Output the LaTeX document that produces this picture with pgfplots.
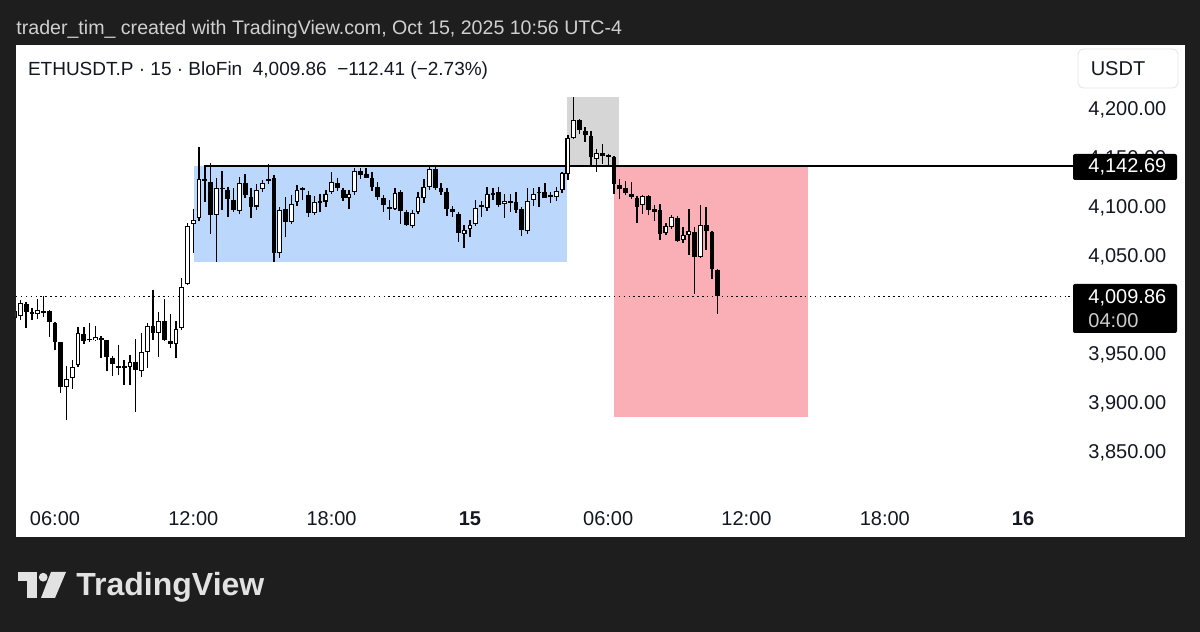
\documentclass[border=0pt]{standalone}
\usepackage{fontspec}
\setmainfont{Liberation Sans}
\usepackage{pgfplots}
\pgfplotsset{compat=1.18}
\usepackage{pgfplotstable}

\definecolor{bgdark}{RGB}{30,30,30}
\definecolor{hdrgray}{RGB}{208,208,208}
\definecolor{tvblack}{RGB}{19,23,34}
\definecolor{boxblue}{RGB}{187,215,251}
\definecolor{boxgray}{RGB}{214,214,214}
\definecolor{boxred}{RGB}{249,175,181}
\definecolor{logogray}{RGB}{226,226,226}

% 15 min candles, t = hours from Oct 14 00:00
\pgfplotstableread{
t o h l c
4.25 3988.0 3998.0 3984.0 3995.0
4.5 3989.8 4006.1 3985.7 4002.7
4.75 4002.0 4003.7 3977.2 3994.2
5.0 3993.5 3997.6 3985.7 3993.0
5.25 3991.8 4006.8 3986.4 3995.6
5.5 3994.0 4010.5 3989.1 3994.5
5.75 3995.3 3995.9 3968.7 3984.0
6.0 3983.0 3984.0 3955.1 3963.6
6.25 3962.9 3963.6 3910.9 3917.7
6.5 3917.0 3938.8 3883.7 3925.2
6.75 3926.2 3944.9 3915.0 3938.1
7.0 3939.8 3978.9 3938.1 3972.1
7.25 3971.1 3978.9 3961.2 3964.3
7.5 3965.8 3982.3 3963.3 3966.2
7.75 3965.3 3979.6 3963.9 3968.0
8.0 3966.5 3969.4 3946.6 3966.2
8.25 3965.3 3965.6 3934.0 3947.6
8.5 3946.6 3949.0 3928.6 3940.5
8.75 3938.3 3960.2 3929.6 3938.0
9.0 3938.0 3944.9 3919.4 3938.3
9.25 3938.1 3950.0 3919.4 3942.9
9.5 3943.2 3966.0 3892.2 3934.7
9.75 3933.7 3972.8 3927.2 3953.1
10.0 3953.1 3982.3 3937.1 3979.9
10.25 3979.6 4016.3 3965.3 3972.8
10.5 3972.8 3994.2 3948.3 3984.7
10.75 3984.7 4006.8 3964.3 3965.3
11.0 3963.9 3991.5 3956.8 3960.9
11.25 3960.9 3985.0 3946.6 3976.2
11.5 3977.2 4028.2 3975.5 4019.0
11.75 4022.1 4084.4 4021.1 4082.0
12.0 4083.7 4098.6 4053.7 4087.8
12.25 4089.5 4162.6 4086.7 4129.3
12.5 4128.5 4142.7 4106.5 4129.0
12.75 4126.9 4145.6 4073.1 4092.9
13.0 4092.9 4130.3 4045.2 4120.1
13.25 4120.3 4137.8 4098.0 4120.0
13.5 4118.4 4121.8 4091.2 4109.2
13.75 4108.2 4120.1 4096.3 4098.0
14.0 4097.0 4132.0 4093.5 4125.9
14.25 4125.2 4134.4 4109.9 4113.3
14.5 4111.6 4120.8 4090.1 4101.4
14.75 4101.4 4124.2 4098.0 4118.4
15.0 4119.1 4128.6 4116.7 4125.9
15.25 4128.3 4144.6 4124.2 4128.8
15.5 4130.3 4133.7 4045.2 4053.7
15.75 4053.7 4101.4 4048.6 4098.0
16.0 4099.0 4111.6 4070.8 4085.4
16.25 4085.4 4113.3 4083.3 4104.1
16.5 4105.8 4123.5 4102.4 4118.4
16.75 4119.2 4121.8 4108.2 4119.6
17.0 4113.3 4117.4 4091.2 4094.6
17.25 4094.6 4112.6 4092.9 4105.8
17.5 4106.3 4114.0 4095.6 4106.6
17.75 4106.5 4118.4 4101.4 4114.3
18.0 4116.0 4136.4 4114.0 4126.9
18.25 4125.2 4130.3 4117.4 4120.1
18.5 4118.4 4120.8 4107.5 4109.9
18.75 4110.5 4118.4 4099.0 4114.0
19.0 4116.0 4141.2 4113.3 4137.8
19.25 4137.8 4141.2 4129.6 4133.7
19.5 4134.4 4140.5 4130.3 4131.0
19.75 4131.0 4136.4 4117.4 4121.8
20.0 4121.8 4126.9 4108.2 4111.6
20.25 4110.5 4113.3 4096.3 4103.1
20.5 4100.5 4108.2 4087.8 4100.3
20.75 4099.0 4120.1 4098.0 4115.0
21.0 4116.0 4118.4 4083.3 4097.0
21.25 4095.6 4098.0 4082.0 4082.7
21.5 4082.0 4098.0 4079.3 4094.6
21.75 4095.6 4116.0 4093.5 4110.9
22.0 4109.9 4129.6 4104.8 4121.8
22.25 4121.8 4143.9 4118.4 4139.8
22.5 4139.8 4143.2 4118.4 4120.8
22.75 4120.8 4125.2 4113.3 4116.7
23.0 4116.0 4120.1 4092.2 4099.0
23.25 4099.0 4102.4 4091.2 4095.6
23.5 4093.9 4095.6 4065.6 4074.1
23.75 4073.1 4082.7 4058.9 4077.6
24.0 4078.3 4087.8 4070.8 4082.7
24.25 4083.3 4108.2 4082.0 4099.7
24.5 4102.2 4107.1 4091.2 4102.6
24.75 4099.7 4121.8 4097.0 4114.0
25.0 4113.3 4120.8 4108.2 4115.5
25.25 4116.0 4121.8 4101.4 4103.1
25.5 4103.8 4114.0 4090.1 4107.5
25.75 4106.3 4114.0 4096.3 4106.6
26.0 4105.8 4116.0 4094.6 4098.0
26.25 4099.0 4101.4 4071.8 4077.6
26.5 4076.9 4120.1 4073.5 4107.1
26.75 4108.2 4120.8 4102.4 4114.0
27.0 4115.8 4121.8 4101.4 4116.2
27.25 4116.0 4125.2 4109.9 4110.5
27.5 4112.6 4116.7 4104.8 4112.3
27.75 4111.6 4121.8 4107.1 4117.4
28.0 4118.4 4137.1 4115.0 4135.4
28.25 4135.0 4174.8 4128.2 4171.4
28.5 4171.4 4213.3 4170.7 4189.5
28.75 4189.5 4191.2 4175.9 4179.3
29.0 4178.2 4182.7 4167.3 4174.2
29.25 4173.5 4178.2 4144.2 4152.0
29.5 4150.3 4159.9 4136.7 4156.1
29.75 4156.5 4165.6 4145.2 4153.1
30.0 4153.8 4155.4 4141.8 4152.0
30.25 4152.0 4153.1 4114.6 4124.8
30.5 4123.1 4129.3 4108.8 4119.7
30.75 4120.4 4127.2 4112.9 4115.6
31.0 4114.6 4126.5 4108.8 4111.2
31.25 4110.2 4112.3 4085.0 4101.0
31.5 4102.7 4113.6 4094.2 4112.3
31.75 4112.3 4113.6 4093.2 4097.6
32.0 4098.6 4103.4 4086.4 4095.9
32.25 4097.6 4104.4 4067.0 4073.8
32.5 4074.8 4085.0 4072.1 4081.3
32.75 4080.6 4093.2 4078.2 4090.8
33.0 4089.8 4091.8 4065.3 4066.0
33.25 4067.0 4080.6 4064.6 4072.8
33.5 4072.8 4099.3 4051.7 4076.2
33.75 4075.5 4080.6 4012.6 4050.0
34.0 4050.0 4103.4 4049.3 4082.3
34.25 4083.0 4101.0 4056.8 4076.2
34.5 4075.5 4076.2 4027.9 4038.1
34.75 4036.4 4038.1 3992.2 4009.86
}\candles

\begin{document}
\begin{tikzpicture}
\fill[bgdark] (0,0) rectangle (600pt,316pt);
\fill[white] (8pt,47.5pt) rectangle (592.5pt,293.5pt);

\begin{axis}[
    at={(8pt,66pt)}, anchor=south west,
    scale only axis, width=526pt, height=227.5pt,
    xmin=4.308, xmax=49.948, ymin=3802.0, ymax=4266.3,
    axis line style={draw=none},
    major tick length=0pt, tick style={draw=none},
    xtick={6,12,18,24,30,36,42,48},
    xticklabels={06:00,12:00,18:00,\textbf{15},06:00,12:00,18:00,\textbf{16}},
    ytick={3850,3900,3950,4050,4100,4150,4200},
    yticklabels={{3,850.00},{3,900.00},{3,950.00},{4,050.00},{4,100.00},{4,150.00},{4,200.00}},
    yticklabel pos=right,
    ticklabel style={font=\fontsize{10}{12}\selectfont, text=tvblack},
    xticklabel style={anchor=center, yshift=-9.5pt},
    yticklabel style={anchor=west, inner sep=0pt, xshift=10pt},
]
% zones
\fill[boxblue] (axis cs:12.03,4044.6) rectangle (axis cs:28.21,4142.69);
\fill[boxgray] (axis cs:28.21,4142.69) rectangle (axis cs:30.48,4213.5);
\fill[boxred] (axis cs:30.27,3886.7) rectangle (axis cs:38.67,4142.69);

% level line and last price line
\draw[black, line width=0.75pt] (axis cs:12.45,4142.69) -- (axis cs:49.948,4142.69);
\draw[black, line width=0.75pt, dash pattern=on 0.75pt off 1.7pt] (axis cs:4.308,4009.86) -- (axis cs:49.948,4009.86);
\coordinate (hl) at (axis cs:49.948,4142.69);
\coordinate (dl) at (axis cs:49.948,4009.86);

% wicks
\addplot[draw=none, mark=none, forget plot,
    error bars/.cd, y dir=both, y explicit, error mark=none,
    error bar style={draw=black, solid, line width=0.7pt}]
    table[x=t, y expr={(\thisrow{h}+\thisrow{l})/2},
          y error expr={(\thisrow{h}-\thisrow{l})/2}] {\candles};
% bearish bodies
\addplot[draw=none, mark=none, forget plot,
    error bars/.cd, y dir=both, y explicit, error mark=none,
    error bar style={draw=black, solid, line width=2.4pt}]
    table[x=t, y expr={(\thisrow{o}+\thisrow{c})/2},
          y error expr={\thisrow{c}<\thisrow{o} ? max((\thisrow{o}-\thisrow{c})/2,0.6) : 0}] {\candles};
% bullish bodies: outline then white fill
\addplot[draw=none, mark=none, forget plot,
    error bars/.cd, y dir=both, y explicit, error mark=none,
    error bar style={draw=black, solid, line width=2.4pt}]
    table[x=t, y expr={(\thisrow{o}+\thisrow{c})/2},
          y error expr={\thisrow{c}<\thisrow{o} ? 0 : max((\thisrow{c}-\thisrow{o})/2,0.6)}] {\candles};
\addplot[draw=none, mark=none, forget plot,
    error bars/.cd, y dir=both, y explicit, error mark=none,
    error bar style={draw=white, solid, line width=1.3pt}]
    table[x=t, y expr={(\thisrow{o}+\thisrow{c})/2},
          y error expr={\thisrow{c}<\thisrow{o} ? 0 : max((\thisrow{c}-\thisrow{o})/2-1.12,0)}] {\candles};
\end{axis}

\draw[black, line width=0.75pt] (hl) -- ++(3pt,0);
\draw[black, line width=0.75pt, dash pattern=on 0.75pt off 1.7pt] (dl) -- ++(3pt,0);

% price tags
\fill[black, rounded corners=1pt] (536.5pt,226pt) rectangle (588.5pt,239pt);
\node[anchor=west, inner sep=0pt, text=white, font=\fontsize{10}{12}\selectfont] at (544pt,232.7pt) {4,142.69};
\fill[black, rounded corners=1pt] (536.5pt,149.5pt) rectangle (588.5pt,174pt);
\node[anchor=west, inner sep=0pt, text=white, font=\fontsize{10}{12}\selectfont] at (544pt,167.3pt) {4,009.86};
\node[anchor=west, inner sep=0pt, text=black!20, font=\fontsize{10}{12}\selectfont] at (544pt,155.8pt) {04:00};

% currency box
\draw[draw=black!10, fill=white, rounded corners=3pt] (539pt,272pt) rectangle (589pt,291.5pt);
\node[inner sep=0pt, text=tvblack, font=\fontsize{10}{12}\selectfont] at (559pt,281.5pt) {USDT};

% headers
\node[anchor=base west, inner sep=0pt, text=hdrgray, font=\fontsize{9.8}{12}\selectfont] at (8pt,298.9pt)
    {trader\_tim\_ created with TradingView.com, Oct 15, 2025 10:56 UTC-4};
\node[anchor=base west, inner sep=0pt, text=tvblack, font=\fontsize{9.5}{12}\selectfont] at (13.8pt,278pt)
    {ETHUSDT.P · 15 · BloFin\ \ 4,009.86\ \ −112.41 (−2.73\%)};

% logo
\fill[logogray] (9pt,25.5pt) rectangle (18.5pt,30pt);
\fill[logogray] (13.5pt,17pt) rectangle (18.5pt,30pt);
\fill[logogray] (21.6pt,27.4pt) circle (2.2pt);
\fill[logogray] (25.5pt,30pt) -- (33pt,30pt) -- (27.5pt,17pt) -- (20.5pt,17pt) -- cycle;
\node[anchor=base west, inner sep=0pt, text=logogray, font=\bfseries\fontsize{16}{19}\selectfont] at (38pt,18pt) {TradingView};
\end{tikzpicture}
\end{document}
